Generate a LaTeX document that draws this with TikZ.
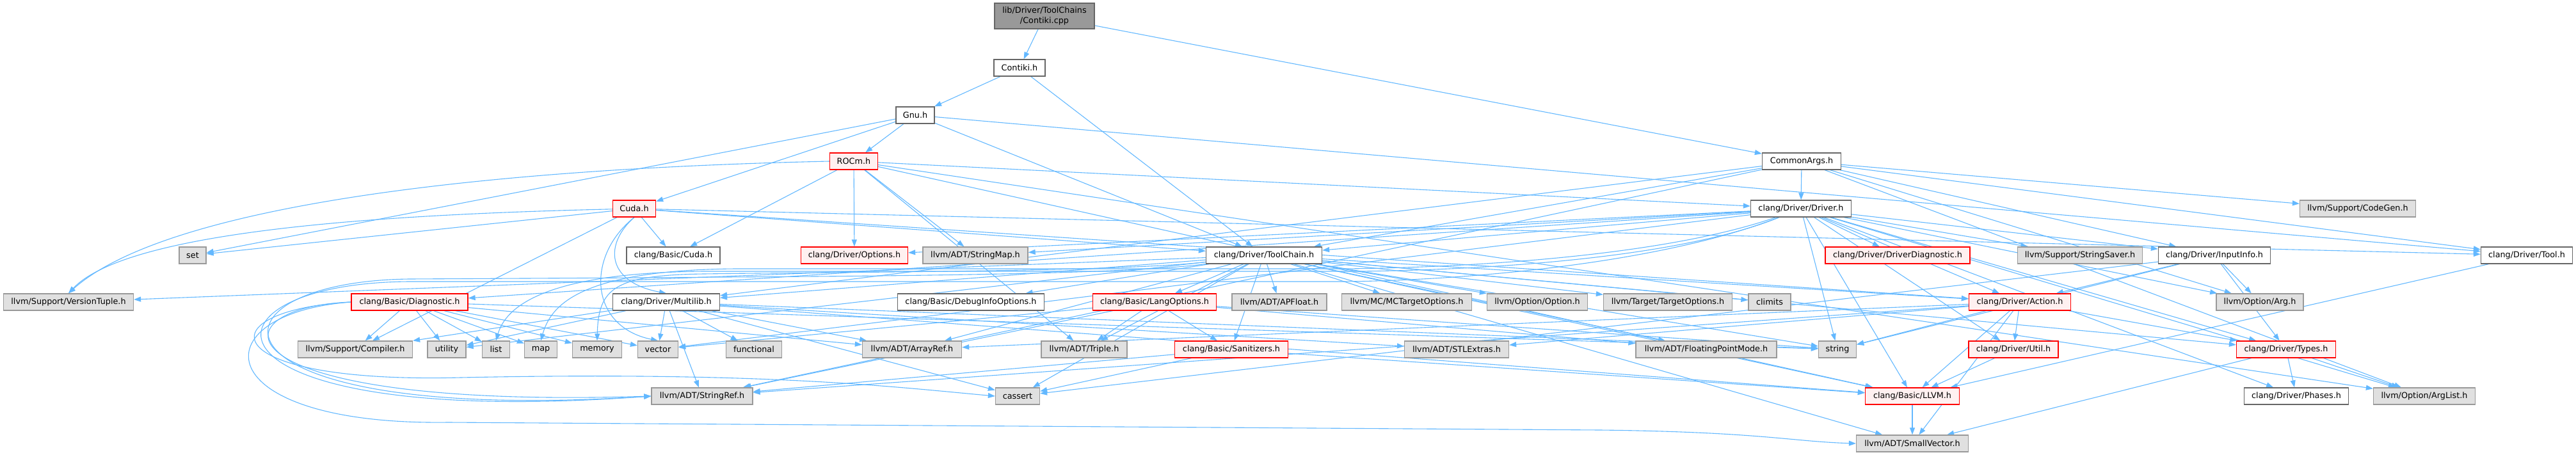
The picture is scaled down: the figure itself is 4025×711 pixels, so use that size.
\documentclass[tikz,border=0pt]{standalone}
\usepackage{fontspec}
\setmainfont{DejaVu Sans}
\usetikzlibrary{arrows.meta}
\definecolor{edgec}{HTML}{63B8FF}
\definecolor{redfill}{HTML}{FFF0F0}
\definecolor{grayfill}{HTML}{E0E0E0}
\definecolor{grayline}{HTML}{999999}
\definecolor{darkline}{HTML}{666666}
\definecolor{redline}{HTML}{FF0000}
\tikzset{
  box/.style={draw, line width=1.3pt, inner sep=0pt, minimum height=26pt, font=\fontsize{12.8}{15}\selectfont, text=black, anchor=center},
  wbox/.style={box, fill=white, draw=darkline},
  rbox/.style={box, fill=redfill, draw=redline},
  gbox/.style={box, fill=grayfill, draw=grayline},
  rootbox/.style={box, fill=grayline, draw=darkline, minimum height=40pt, align=center, font=\fontsize{12.8}{16}\selectfont},
  edge/.style={draw=edgec, line width=1.1pt, -{Triangle[length=11pt,width=8pt]}, color=edgec}
}
\newcommand\placeallnodes{%
\node[rootbox, minimum width=156pt] (cpp) at (1632,25) {lib/Driver/ToolChains\\/Contiki.cpp};
\node[wbox, minimum width=80pt] (contikih) at (1593,106) {Contiki.h};
\node[wbox, minimum width=60pt] (gnu) at (1430,180) {Gnu.h};
\node[wbox, minimum width=123pt] (commonargs) at (2815,252) {CommonArgs.h};
\node[rbox, minimum width=75pt] (rocm) at (1334,252) {ROCm.h};
\node[rbox, minimum width=67pt] (cuda) at (991,326) {Cuda.h};
\node[wbox, minimum width=157pt] (driver) at (2814,326) {clang/Driver/Driver.h};
\node[gbox, minimum width=181pt] (codegen) at (3684,326) {llvm/Support/CodeGen.h};
\node[gbox, minimum width=42pt] (set) at (301,399) {set};
\node[wbox, minimum width=146pt] (bcuda) at (1052,399) {clang/Basic/Cuda.h};
\node[rbox, minimum width=167pt] (options) at (1335,399) {clang/Driver/Options.h};
\node[gbox, minimum width=164pt] (stringmap) at (1524,399) {llvm/ADT/StringMap.h};
\node[wbox, minimum width=181pt] (toolchain) at (1975,399) {clang/Driver/ToolChain.h};
\node[rbox, minimum width=226pt] (driverdiag) at (2965,399) {clang/Driver/DriverDiagnostic.h};
\node[gbox, minimum width=195pt] (stringsaver) at (3250,399) {llvm/Support/StringSaver.h};
\node[wbox, minimum width=175pt] (inputinfo) at (3460,399) {clang/Driver/InputInfo.h};
\node[wbox, minimum width=143pt] (tool) at (3948,399) {clang/Driver/Tool.h};
\node[gbox, minimum width=203pt] (versiontuple) at (107,472) {llvm/Support/VersionTuple.h};
\node[rbox, minimum width=182pt] (diagnostic) at (640,472) {clang/Basic/Diagnostic.h};
\node[wbox, minimum width=167pt] (multilib) at (1041,472) {clang/Driver/Multilib.h};
\node[wbox, minimum width=229pt] (debuginfo) at (1517,472) {clang/Basic/DebugInfoOptions.h};
\node[rbox, minimum width=193pt] (langopts) at (1804,472) {clang/Basic/LangOptions.h};
\node[gbox, minimum width=148pt] (apfloat) at (1999,472) {llvm/ADT/APFloat.h};
\node[gbox, minimum width=203pt] (mctarget) at (2198,472) {llvm/MC/MCTargetOptions.h};
\node[gbox, minimum width=157pt] (option) at (2402,472) {llvm/Option/Option.h};
\node[gbox, minimum width=201pt] (targetopts) at (2606,472) {llvm/Target/TargetOptions.h};
\node[gbox, minimum width=66pt] (climits) at (2765,472) {climits};
\node[rbox, minimum width=159pt] (action) at (3156,472) {clang/Driver/Action.h};
\node[gbox, minimum width=136pt] (arg) at (3531,472) {llvm/Option/Arg.h};
\node[gbox, minimum width=179pt] (compiler) at (555,546) {llvm/Support/Compiler.h};
\node[gbox, minimum width=60pt] (utility) at (698,546) {utility};
\node[gbox, minimum width=43pt] (list) at (775,546) {list};
\node[gbox, minimum width=51pt] (map) at (845,546) {map};
\node[gbox, minimum width=77pt] (memory) at (933,546) {memory};
\node[gbox, minimum width=63pt] (vector) at (1028,546) {vector};
\node[gbox, minimum width=87pt] (functional) at (1178,546) {functional};
\node[gbox, minimum width=155pt] (arrayref) at (1425,546) {llvm/ADT/ArrayRef.h};
\node[gbox, minimum width=134pt] (triple) at (1694,546) {llvm/ADT/Triple.h};
\node[rbox, minimum width=177pt] (sanitizers) at (1924,546) {clang/Basic/Sanitizers.h};
\node[gbox, minimum width=163pt] (stlextras) at (2276,546) {llvm/ADT/STLExtras.h};
\node[gbox, minimum width=220pt] (fpmode) at (2666,546) {llvm/ADT/FloatingPointMode.h};
\node[gbox, minimum width=59pt] (string) at (2871,546) {string};
\node[rbox, minimum width=140pt] (util) at (3146,546) {clang/Driver/Util.h};
\node[rbox, minimum width=155pt] (types) at (3572,546) {clang/Driver/Types.h};
\node[gbox, minimum width=158pt] (stringref) at (1097,619) {llvm/ADT/StringRef.h};
\node[gbox, minimum width=69pt] (cassert) at (1590,619) {cassert};
\node[rbox, minimum width=147pt] (llvm) at (2988,619) {clang/Basic/LLVM.h};
\node[wbox, minimum width=163pt] (phases) at (3588,619) {clang/Driver/Phases.h};
\node[gbox, minimum width=159pt] (arglist) at (3788,619) {llvm/Option/ArgList.h};
\node[gbox, minimum width=175pt] (smallvector) at (2988,693) {llvm/ADT/SmallVector.h};
}
\begin{document}
\begin{tikzpicture}[x=1pt,y=-1pt]
\useasboundingbox (0,0) rectangle (4025,711);
\placeallnodes
\foreach \s/\t in {
 cpp/contikih, cpp/commonargs,
 contikih/gnu, contikih/toolchain,
 gnu/cuda, gnu/rocm, gnu/tool, gnu/toolchain, gnu/set,
 commonargs/driver, commonargs/inputinfo, commonargs/multilib, commonargs/tool, commonargs/toolchain, commonargs/stringref, commonargs/arg, commonargs/arglist, commonargs/codegen,
 rocm/bcuda, rocm/llvm, rocm/driver, rocm/options, rocm/stringmap, rocm/triple, rocm/arglist,
 cuda/bcuda, cuda/action, cuda/tool, cuda/toolchain, cuda/compiler, cuda/set,
 driver/diagnostic, driver/llvm, driver/action, driver/driverdiag, driver/inputinfo, driver/options, driver/phases, driver/toolchain, driver/types, driver/util, driver/stringmap, driver/arg, driver/arglist, driver/stringsaver, driver/string, driver/vector,
 toolchain/debuginfo, toolchain/llvm, toolchain/langopts, toolchain/sanitizers, toolchain/action, toolchain/multilib, toolchain/types, toolchain/apfloat, toolchain/arrayref, toolchain/fpmode, toolchain/smallvector, toolchain/triple, toolchain/mctarget, toolchain/option, toolchain/versiontuple, toolchain/targetopts, toolchain/cassert, toolchain/climits, toolchain/string, toolchain/utility,
 multilib/llvm, multilib/arrayref, multilib/stlextras, multilib/stringref, multilib/compiler, multilib/cassert, multilib/functional, multilib/string, multilib/utility, multilib/vector,
 diagnostic/arrayref, diagnostic/compiler, diagnostic/list, diagnostic/map, diagnostic/memory, diagnostic/string, diagnostic/utility, diagnostic/vector,
 langopts/triple, langopts/sanitizers, langopts/fpmode, langopts/stringref, langopts/string, langopts/vector,
 sanitizers/llvm, sanitizers/stringref, sanitizers/cassert,
 action/llvm, action/types, action/util, action/arrayref, action/stlextras, action/smallvector, action/stringref, action/string,
 util/llvm,
 types/phases, types/smallvector, types/arglist,
 inputinfo/action, inputinfo/types, inputinfo/arg, inputinfo/cassert, inputinfo/string,
 tool/llvm,
 llvm/smallvector}
 \draw[edge] (\s) -- (\t);
% routed edges
\draw[edge] (toolchain) .. controls (1750,425) and (1300,425) .. (1100,428) .. controls (960,430) and (935,450) .. (memory.north);
\draw[edge] (driver) .. controls (2600,400) and (2300,418) .. (2100,420) -- (1150,420) .. controls (900,422) and (860,480) .. (map.north);
\draw[edge] (driver) .. controls (2620,404) and (2320,422) .. (2120,424) -- (1100,424) .. controls (850,426) and (790,480) .. (list.north);
\draw[edge] (diagnostic.west) .. controls (330,480) and (330,640) .. (stringref.west);
\draw[edge] (toolchain) .. controls (1750,432) and (1200,432) .. (1000,434) -- (640,436) .. controls (300,440) and (300,665) .. (stringref.west);
\draw[edge] (driver) .. controls (2600,410) and (2300,438) .. (2100,440) -- (640,440) .. controls (285,442) and (285,672) .. (stringref.west);
\draw[edge] (diagnostic.west) .. controls (310,490) and (320,665) .. (700,660) -- (2500,672) .. controls (2750,675) and (2800,690) .. (smallvector.west);
\draw[edge] (diagnostic.west) .. controls (320,485) and (330,600) .. (720,590) .. controls (1200,580) and (1400,605) .. (cassert.west);
\draw[edge] (cuda.south) .. controls (945,380) and (945,440) .. (multilib.north);
\draw[edge] (cuda.south) .. controls (915,400) and (920,510) .. (vector.north);
\draw[edge] (rocm.west) .. controls (700,265) and (250,330) .. (versiontuple.north);
\draw[edge] (cuda) .. controls (600,335) and (200,360) .. (versiontuple.north);
% nodes again, on top of the connectors
\placeallnodes
\end{tikzpicture}
\end{document}
